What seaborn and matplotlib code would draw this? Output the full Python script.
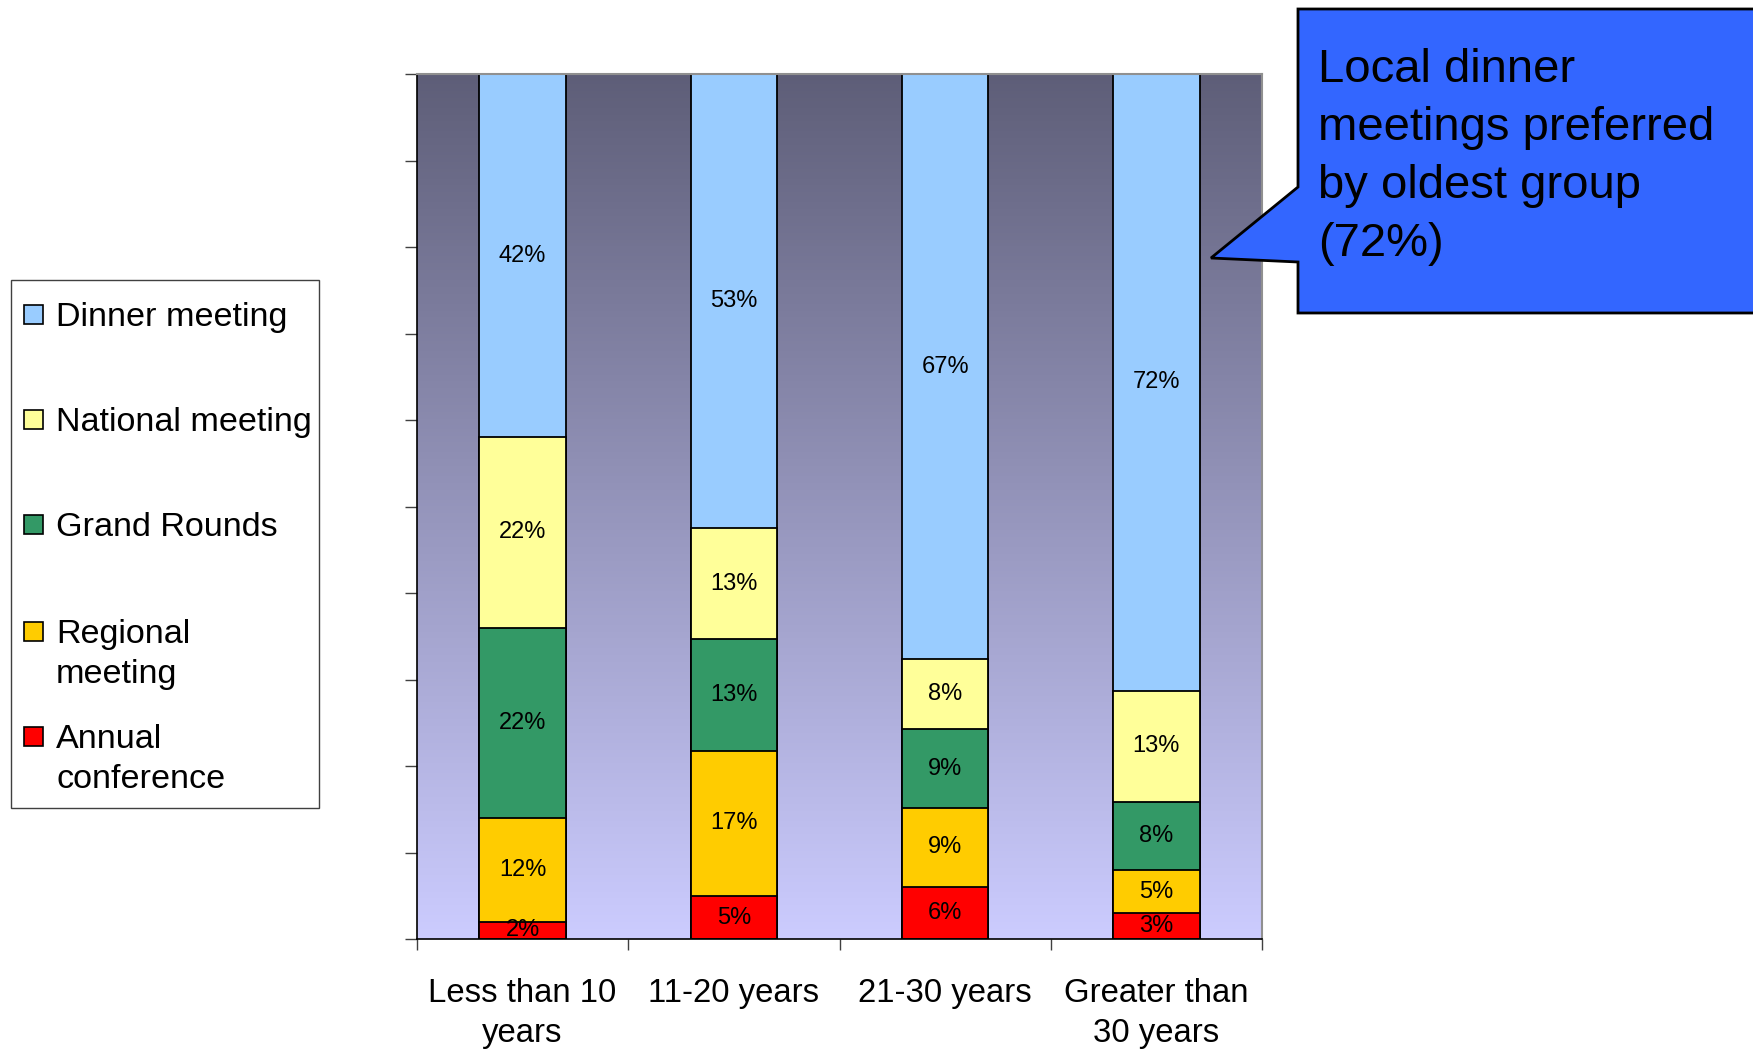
import numpy as np
import pandas as pd
import matplotlib
matplotlib.use("Agg")
import matplotlib.pyplot as plt
from matplotlib.patches import Rectangle, Polygon
import seaborn as sns

categories = ["Less than 10\nyears", "11-20 years", "21-30 years", "Greater than\n30 years"]
series_names = ["Annual conference", "Regional meeting", "Grand Rounds", "National meeting", "Dinner meeting"]
legend_labels = ["Dinner meeting", "National meeting", "Grand Rounds", "Regional\nmeeting", "Annual\nconference"]
annual = [2, 5, 6, 3]
regional = [12, 17, 9, 5]
grand_rounds = [22, 13, 9, 8]
national = [22, 13, 8, 13]
dinner = [42, 53, 67, 72]
colors = ["#FF0000", "#FFCC00", "#339966", "#FFFF99", "#99CCFF"]
callout_text = "Local dinner\nmeetings preferred\nby oldest group\n(72%)"

sns.set_style("ticks")
plt.rcParams['font.family'] = ['Liberation Sans', 'DejaVu Sans']
plt.rcParams['text.color'] = 'black'
plt.rcParams['xtick.labelcolor'] = 'black'

W, H = 1753, 1049
fig = plt.figure(figsize=(W / 100, H / 100), dpi=100)
ax = fig.add_axes([417 / W, 1 - 939 / H, 845 / W, 865 / H])

# gradient background
grad = np.linspace(0, 1, 256).reshape(-1, 1)
top_c = np.array([0x5E, 0x5E, 0x78]) / 255
bot_c = np.array([0xCC, 0xCC, 0xFF]) / 255
img = top_c[None, None, :] * (1 - grad[:, :, None]) + bot_c[None, None, :] * grad[:, :, None]
ax.imshow(img, extent=[0, 1, 0, 1], transform=ax.transAxes, aspect='auto', zorder=0)

vals = np.array([annual, regional, grand_rounds, national, dinner], dtype=float)
pct = vals / vals.sum(axis=0) * 100
cum = np.cumsum(pct, axis=0)

# draw cumulative bars from top layer down
for k in range(len(series_names) - 1, -1, -1):
    df = pd.DataFrame({"cat": categories, "val": cum[k]})
    sns.barplot(data=df, x="cat", y="val", order=categories, color=colors[k], saturation=1,
                width=0.41, edgecolor="black", linewidth=1.3, ax=ax, zorder=2)

raw = [annual, regional, grand_rounds, national, dinner]
for k in range(len(series_names)):
    for i in range(len(categories)):
        bottom = cum[k][i] - pct[k][i]
        ax.text(i, bottom + pct[k][i] / 2, f"{raw[k][i]}%", ha="center", va="center",
                fontsize=17, color="black", zorder=3)

ax.set_xlim(-0.5, len(categories) - 0.5)
ax.set_ylim(0, 100)
ax.set_xlabel("")
ax.set_ylabel("")
ax.set_yticks(np.arange(0, 101, 10))
ax.set_yticklabels([])
ax.tick_params(axis='y', direction='out', length=9, width=1, color='#404040')
ax.set_xticks(np.arange(-0.5, len(categories), 1.0))
ax.set_xticklabels([])
ax.set_xticks(np.arange(len(categories)), minor=True)
ax.set_xticklabels(categories, minor=True, fontsize=23.7)
ax.tick_params(axis='x', which='major', direction='out', length=8, width=1, color='#404040')
ax.tick_params(axis='x', which='minor', length=0, pad=28)
for lab in ax.get_xticklabels(minor=True):
    lab.set_linespacing(1.38)
    lab.set_color('black')

for s in ['left', 'bottom']:
    ax.spines[s].set_color('black')
    ax.spines[s].set_linewidth(1.2)
for s in ['top', 'right']:
    ax.spines[s].set_visible(True)
    ax.spines[s].set_color('#909090')
    ax.spines[s].set_linewidth(1.5)

# legend (manual, in figure coords)
def fx(x):
    return x / W

def fy(y):
    return 1 - y / H

fig.patches.append(Rectangle((fx(11), fy(808)), fx(319) - fx(11), fy(280) - fy(808),
                             transform=fig.transFigure, facecolor='white', edgecolor='#404040',
                             linewidth=1.0, zorder=1))
legend_colors = colors[::-1]
centers = [314, 419, 524, 631, 736]
sq = 19
for lab, col, cy in zip(legend_labels, legend_colors, centers):
    fig.patches.append(Rectangle((fx(24), fy(cy + sq / 2)), sq / W, sq / H, transform=fig.transFigure,
                                 facecolor=col, edgecolor='black', linewidth=1.2, zorder=2))
    for j, line in enumerate(lab.split("\n")):
        fig.text(fx(56), fy(cy + 12 + 40 * j), line, fontsize=24.6, ha='left', va='baseline',
                 color='black', zorder=3)

# callout
pts = [(1298, 9), (1760, 9), (1760, 313), (1298, 313), (1298, 262), (1211, 258), (1298, 187)]
fig.patches.append(Polygon([(fx(x), fy(y)) for x, y in pts], closed=True, transform=fig.transFigure,
                           facecolor='#3366FF', edgecolor='black', linewidth=2, zorder=5))
for j, line in enumerate(callout_text.split("\n")):
    fig.text(fx(1318), fy(82 + 58 * j), line, fontsize=34, ha='left', va='baseline',
             color='black', zorder=6)

fig.savefig("out.png", dpi=100)
